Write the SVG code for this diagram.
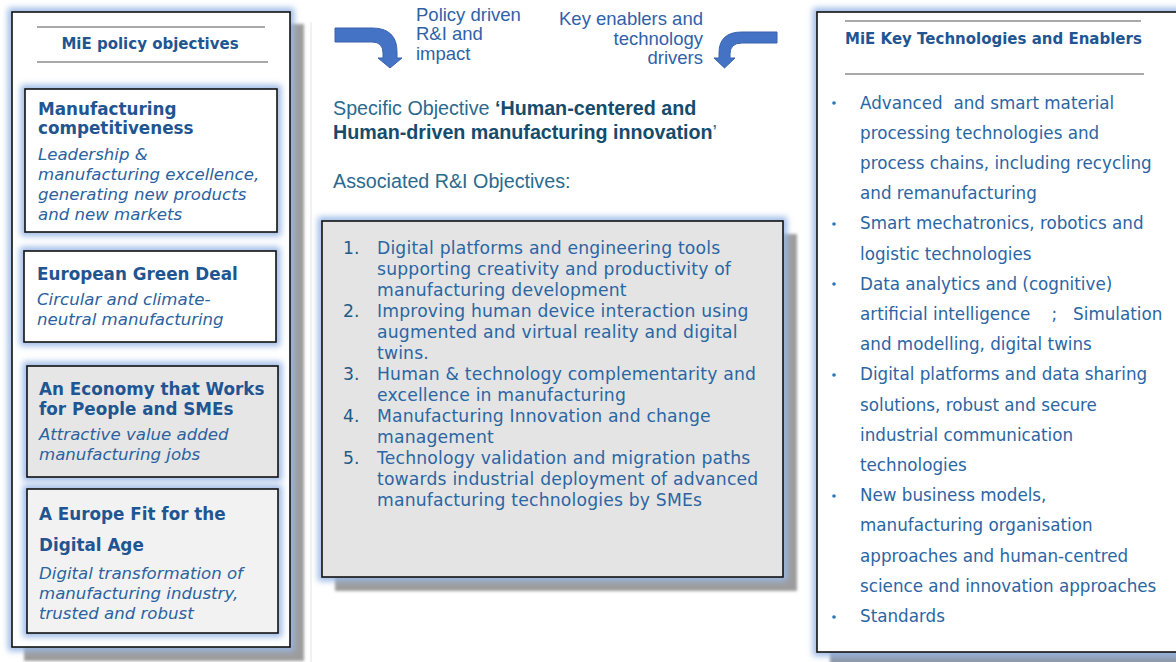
<svg xmlns="http://www.w3.org/2000/svg" width="1176" height="662" viewBox="0 0 1176 662">
<defs>
<filter id="glow" x="-20%" y="-20%" width="140%" height="140%"><feGaussianBlur stdDeviation="3"/></filter>
<filter id="shadow" x="-20%" y="-20%" width="140%" height="140%"><feGaussianBlur stdDeviation="1.5"/></filter>
<style>
.frame{fill:#ffffff;stroke:#111111;stroke-width:1.6}
.glowr{fill:none;stroke:#9ab8e6;stroke-width:8;filter:url(#glow)}
.shd{fill:#9c9c9c;filter:url(#shadow)}
.rule{stroke:#555555;stroke-width:1.2}
.hdr{font-family:"DejaVu Sans",Verdana,sans-serif;font-weight:bold;font-size:15px;fill:#1f5591}
.ttl{font-family:"DejaVu Sans",Verdana,sans-serif;font-weight:bold;font-size:16.8px;fill:#1f5591}
.sub{font-family:"DejaVu Sans",Verdana,sans-serif;font-style:italic;font-size:16.6px;fill:#2b62a0}
.lst{font-family:"DejaVu Sans",Verdana,sans-serif;font-size:17.2px;letter-spacing:0.18px;fill:#2b66a3}
.num{font-family:"DejaVu Sans",Verdana,sans-serif;font-size:17.2px;fill:#215c86}
.rl{font-family:"DejaVu Sans",Verdana,sans-serif;font-size:16.75px;fill:#2b66a3}
.cal{font-family:"Liberation Sans",Arial,sans-serif;font-size:18.5px;fill:#2f62a8}
.spec{font-family:"Liberation Sans",Arial,sans-serif;font-size:19.7px;fill:#2a6a8e}
.specb{font-weight:bold;fill:#154b6c}
.arrow{fill:#4472c4;stroke:#3a62ad;stroke-width:1}
.dot{fill:#2e75b6}
</style>
</defs>
<rect width="1176" height="662" fill="#ffffff"/>
<line x1="311" y1="22" x2="311" y2="662" stroke="#ececec" stroke-width="1.5"/>

<g id="left-panel">
<rect class="shd" x="24" y="24" width="280" height="637"/>
<rect class="glowr" x="12" y="12" width="278" height="635"/>
<rect class="frame" x="12" y="12" width="278" height="635"/>
<line class="rule" x1="37" y1="27" x2="265" y2="27"/>
<line class="rule" x1="37" y1="62" x2="268" y2="62"/>
<text class="hdr" x="150" y="49" text-anchor="middle">MiE policy objectives</text>
</g>

<g id="obj-competitiveness">
<rect class="glowr" x="25" y="89" width="252" height="143"/>
<rect class="frame" x="25" y="89" width="252" height="143"/>
<text class="ttl" x="38" y="115">Manufacturing</text>
<text class="ttl" x="38" y="134">competitiveness</text>
<text class="sub" x="38" y="160">Leadership &amp;</text>
<text class="sub" x="38" y="180">manufacturing excellence,</text>
<text class="sub" x="38" y="200">generating new products</text>
<text class="sub" x="38" y="220">and new markets</text>
</g>

<g id="obj-green-deal">
<rect class="glowr" x="24" y="251" width="252" height="91"/>
<rect class="frame" x="24" y="251" width="252" height="91"/>
<text class="ttl" x="37" y="280">European Green Deal</text>
<text class="sub" x="37" y="305">Circular and climate-</text>
<text class="sub" x="37" y="325">neutral manufacturing</text>
</g>

<g id="obj-economy">
<rect class="glowr" x="27" y="366" width="251" height="111"/>
<rect class="frame" x="27" y="366" width="251" height="111" style="fill:#e6e6e6"/>
<text class="ttl" x="39" y="395">An Economy that Works</text>
<text class="ttl" x="39" y="415">for People and SMEs</text>
<text class="sub" x="39" y="440">Attractive value added</text>
<text class="sub" x="39" y="460">manufacturing jobs</text>
</g>

<g id="obj-digital">
<rect class="glowr" x="27" y="489" width="251" height="144"/>
<rect class="frame" x="27" y="489" width="251" height="144" style="fill:#f2f2f2"/>
<text class="ttl" x="39" y="520">A Europe Fit for the</text>
<text class="ttl" x="39" y="551">Digital Age</text>
<text class="sub" x="39" y="579">Digital transformation of</text>
<text class="sub" x="39" y="599">manufacturing industry,</text>
<text class="sub" x="39" y="619">trusted and robust</text>
</g>

<g id="connectors">
<path class="arrow" d="M335,28 L372,28 Q397,28 397,52 L397,58 L402,58 L390,68 L378,58 L383,58 L383,53 Q383,42 372,42 L335,42 Z"/>
<path class="arrow" d="M777,32 L742,32 Q719,32 719,53 L719,58 L714,58 L724.5,68 L735,58 L730,58 L730,54 Q730,43 742,43 L777,43 Z"/>
</g>

<g id="label-policy">
<text class="cal" x="416" y="21">Policy driven</text>
<text class="cal" x="416" y="40">R&amp;I and</text>
<text class="cal" x="416" y="60">impact</text>
</g>

<g id="label-enablers">
<text class="cal" x="703" y="25" text-anchor="end">Key enablers and</text>
<text class="cal" x="703" y="45" text-anchor="end">technology</text>
<text class="cal" x="703" y="64" text-anchor="end">drivers</text>
</g>

<g id="specific-objective">
<text class="spec" x="333" y="115">Specific Objective <tspan class="specb">‘Human-centered and</tspan></text>
<text class="spec" x="333" y="139"><tspan class="specb">Human-driven manufacturing innovation</tspan>’</text>
<text class="spec" x="333" y="188">Associated R&amp;I Objectives:</text>
</g>

<g id="ri-objectives">
<rect class="shd" x="335" y="234" width="462" height="357"/>
<rect class="glowr" x="322" y="221" width="461" height="356"/>
<rect class="frame" x="322" y="221" width="461" height="356" style="fill:#e4e4e4"/>
<text class="num" x="343" y="254">1.</text>
<text class="lst" x="377" y="254">Digital platforms and engineering tools</text>
<text class="lst" x="377" y="275">supporting creativity and productivity of</text>
<text class="lst" x="377" y="296">manufacturing development</text>
<text class="num" x="343" y="317">2.</text>
<text class="lst" x="377" y="317">Improving human device interaction using</text>
<text class="lst" x="377" y="338">augmented and virtual reality and digital</text>
<text class="lst" x="377" y="359">twins.</text>
<text class="num" x="343" y="380">3.</text>
<text class="lst" x="377" y="380">Human &amp; technology complementarity and</text>
<text class="lst" x="377" y="401">excellence in manufacturing</text>
<text class="num" x="343" y="422">4.</text>
<text class="lst" x="377" y="422">Manufacturing Innovation and change</text>
<text class="lst" x="377" y="443">management</text>
<text class="num" x="343" y="464">5.</text>
<text class="lst" x="377" y="464">Technology validation and migration paths</text>
<text class="lst" x="377" y="485">towards industrial deployment of advanced</text>
<text class="lst" x="377" y="506">manufacturing technologies by SMEs</text>
</g>

<g id="right-panel">
<rect class="shd" x="830" y="25" width="360" height="640" style="fill:#8e99aa"/>
<rect class="glowr" x="817" y="12" width="370" height="640"/>
<rect class="frame" x="817" y="12" width="370" height="640"/>
<line class="rule" x1="845" y1="21" x2="1141" y2="21"/>
<line class="rule" x1="845" y1="74" x2="1144" y2="74"/>
<text class="hdr" x="845" y="44">MiE Key Technologies and Enablers</text>
<circle class="dot" cx="834" cy="103" r="1.8"/>
<text class="rl" x="860" y="108.5" xml:space="preserve">Advanced  and smart material</text>
<text class="rl" x="860" y="138.7">processing technologies and</text>
<text class="rl" x="860" y="168.9">process chains, including recycling</text>
<text class="rl" x="860" y="199.1">and remanufacturing</text>
<circle class="dot" cx="834" cy="224" r="1.8"/>
<text class="rl" x="860" y="229.3">Smart mechatronics, robotics and</text>
<text class="rl" x="860" y="259.5">logistic technologies</text>
<circle class="dot" cx="834" cy="284" r="1.8"/>
<text class="rl" x="860" y="289.7">Data analytics and (cognitive)</text>
<text class="rl" x="860" y="319.9" xml:space="preserve">artificial intelligence    ;   Simulation</text>
<text class="rl" x="860" y="350.1">and modelling, digital twins</text>
<circle class="dot" cx="834" cy="375" r="1.8"/>
<text class="rl" x="860" y="380.3">Digital platforms and data sharing</text>
<text class="rl" x="860" y="410.5">solutions, robust and secure</text>
<text class="rl" x="860" y="440.7">industrial communication</text>
<text class="rl" x="860" y="470.9">technologies</text>
<circle class="dot" cx="834" cy="496" r="1.8"/>
<text class="rl" x="860" y="501.1">New business models,</text>
<text class="rl" x="860" y="531.3">manufacturing organisation</text>
<text class="rl" x="860" y="561.5">approaches and human-centred</text>
<text class="rl" x="860" y="591.7">science and innovation approaches</text>
<circle class="dot" cx="834" cy="617" r="1.8"/>
<text class="rl" x="860" y="621.9">Standards</text>
</g>
</svg>
